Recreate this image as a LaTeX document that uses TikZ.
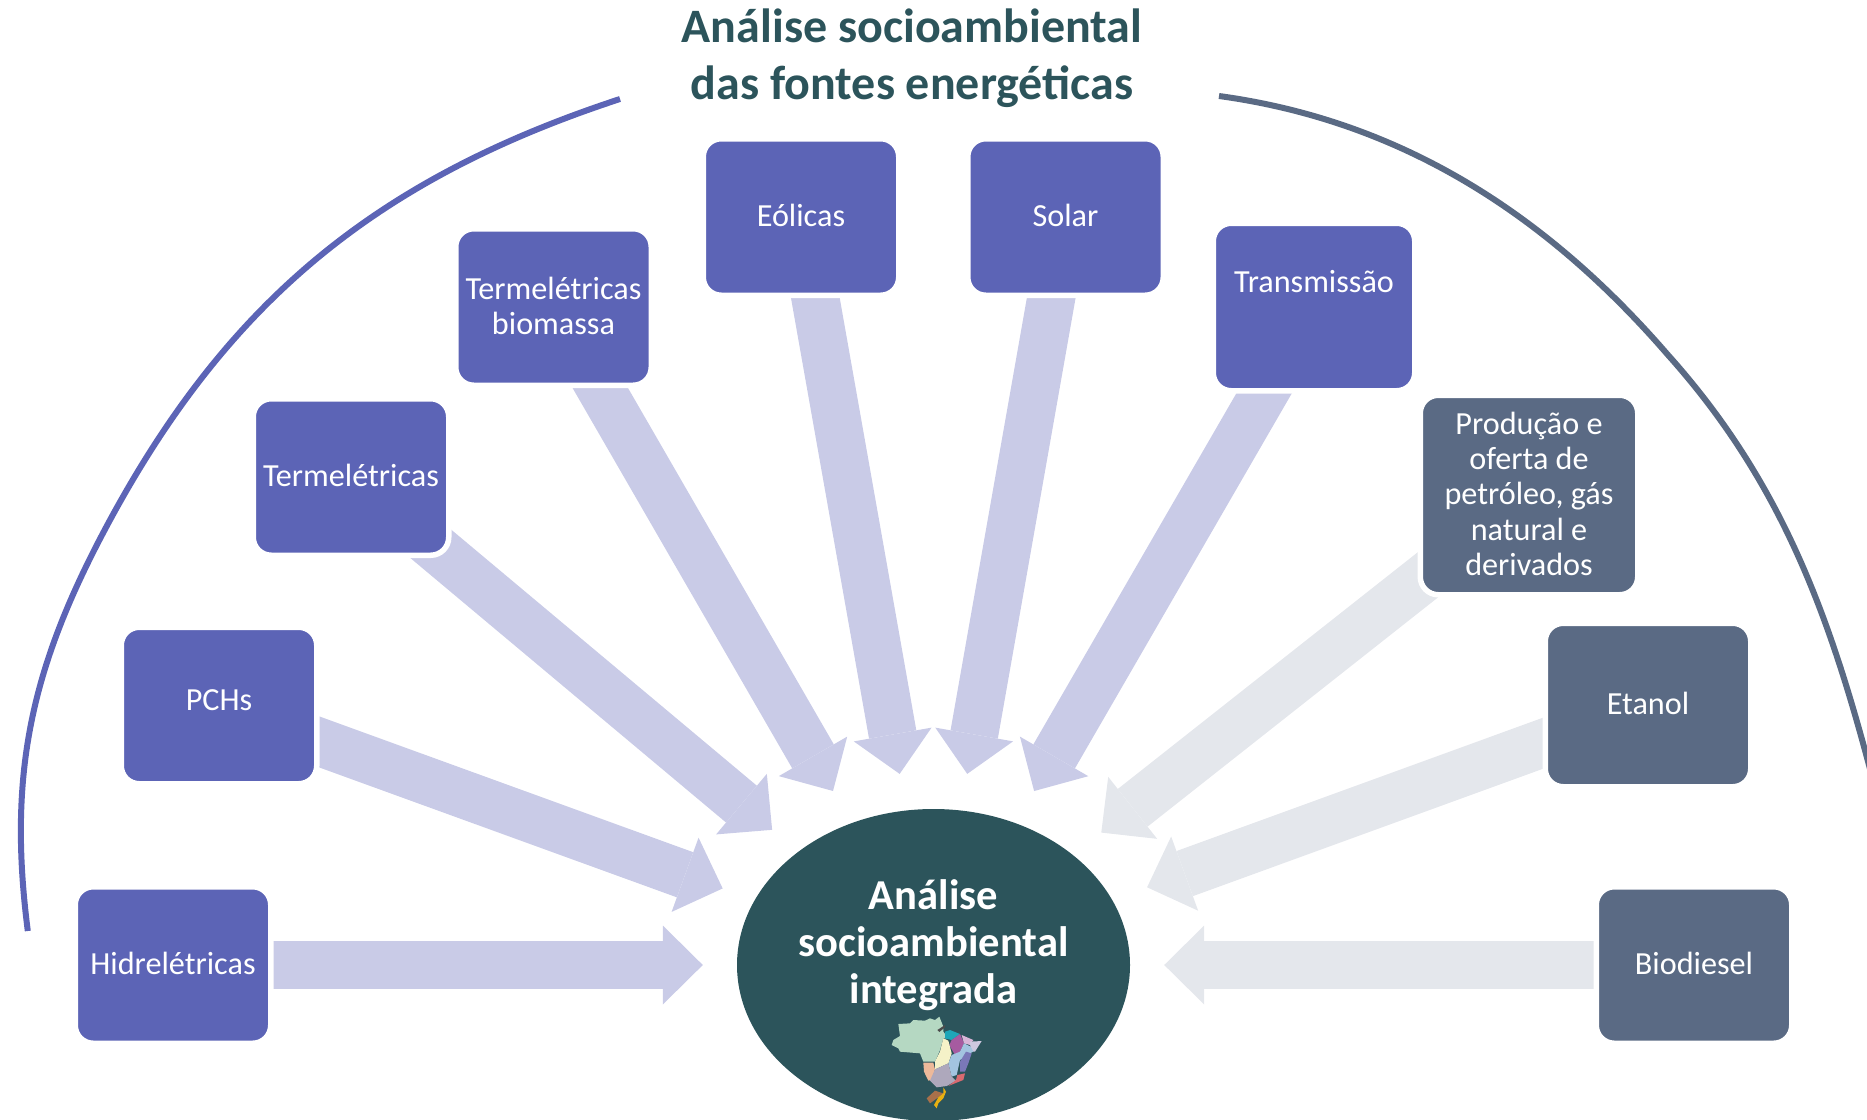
\documentclass[tikz,border=0pt]{standalone}
\usepackage{fontspec}
\setmainfont{Carlito}
\usetikzlibrary{arrows.meta,backgrounds,shapes.geometric}
\definecolor{boxblue}{HTML}{5C64B6}
\definecolor{boxslate}{HTML}{5A6A84}
\definecolor{flowblue}{HTML}{C9CBE7}
\definecolor{flowslate}{HTML}{E4E7EC}
\definecolor{focusteal}{HTML}{2C545B}
\tikzset{
  source/.style={rectangle, rounded corners=18pt, draw=white, line width=5.5pt, inner sep=0pt, align=center, text=white, text depth=2.4pt, font=\fontsize{32.2}{35.3}\selectfont},
  bluesource/.style={source, fill=boxblue},
  slatesource/.style={source, fill=boxslate},
  flow/.style={line width=48pt, shorten >=34pt, -{Triangle[length=40pt,width=79pt,line width=0pt]}},
  region/.style={draw=none}
}
\begin{document}
\begin{tikzpicture}[x=1pt,y=-1pt]
  \useasboundingbox (0,0) rectangle (1867,1119);
  \node (title) [align=center, text=focusteal, font=\fontsize{48}{57}\selectfont\bfseries] at (912,58) {Análise socioambiental\\das fontes energéticas};
  \node (focus) [ellipse, fill=focusteal, inner sep=0pt, minimum width=393pt, minimum height=312pt] at (933.5,965) {};
  \node (focuslabel) [align=center, text=white, font=\fontsize{42.6}{47}\selectfont\bfseries] at (933.5,945) {Análise\\socioambiental\\integrada};

  \node (hidro) [bluesource, minimum width=195.5pt, minimum height=156.5pt] at (173,965) {Hidrelétricas};
  \node (pch) [bluesource, minimum width=195.5pt, minimum height=156.5pt, text depth=10pt] at (219,705.5) {PCHs};
  \node (termo) [bluesource, minimum width=195.5pt, minimum height=156.5pt] at (351,477) {Termelétricas};
  \node (biomassa) [bluesource, minimum width=195.5pt, minimum height=156.5pt] at (553.5,307) {Termelétricas\\biomassa};
  \node (eolicas) [bluesource, minimum width=195.5pt, minimum height=156.5pt] at (801,217) {Eólicas};
  \node (solar) [bluesource, minimum width=195.5pt, minimum height=156.5pt] at (1065.5,217) {Solar};
  \node (transmissao) [bluesource, minimum width=201.5pt, minimum height=167.5pt] at (1314,307) {Transmissão\\[14pt]\mbox{}};
  \node (petroleo) [slatesource, minimum width=217.5pt, minimum height=199.5pt] at (1529,495) {Produção e\\oferta de\\petróleo, gás\\natural e\\derivados};
  \node (etanol) [slatesource, minimum width=205.5pt, minimum height=163.5pt] at (1648,705) {Etanol};
  \node (biodiesel) [slatesource, minimum width=195.5pt, minimum height=156.5pt] at (1694,965) {Biodiesel};

  \begin{scope}[on background layer]
    \path[flow, color=flowblue]
    (hidro.center) edge (focus)
    (pch.center) edge (focus)
    (termo.center) edge (focus)
    (biomassa.center) edge [shorten >=37pt] (focus)
    (eolicas.center) edge [shorten >=37pt] (focus)
    (solar.center) edge [shorten >=37pt] (focus)
    (transmissao.center) edge [shorten >=37pt] (focus)
    ;
    \path[flow, color=flowslate]
    (petroleo.center) edge [shorten >=36pt] (focus)
    (etanol.center) edge [shorten >=37pt] (focus)
    (biodiesel.center) edge (focus)
    ;
  \end{scope}

  % arcs round the sources
  \draw[boxblue, line width=6pt] (620,99) .. controls (373,180) and (223,305) .. (102,535) .. controls (30,672) and (8,777) .. (27.8,931);
  \draw[boxslate, line width=6pt] (1219,96) .. controls (1402,121) and (1547,215) .. (1668,355) .. controls (1780,480) and (1828,611) .. (1870,769);

  % map, in 3x zoom units
  \begin{scope}[shift={(880,1010)}, x=0.3333pt, y=-0.3333pt]
    \fill[region, fill={rgb,255:red,181;green,216;blue,194}] (55,42) -- (90,40) -- (100,30) -- (135,32) -- (150,25) -- (165,30) -- (178,20) -- (190,50) -- (190,65) -- (205,85) -- (190,85) -- (180,120) -- (165,155) -- (130,155) -- (120,130) -- (60,125) -- (55,115) -- (35,105) -- (40,90) -- (60,78) -- cycle;
    \fill[region, fill=black!70] (172,60) -- (195,45) -- (195,52) -- (178,66) -- cycle;
    \fill[region, fill={rgb,255:red,30;green,166;blue,184}] (195,65) -- (210,60) -- (240,72) -- (215,90) -- (195,85) -- cycle;
    \fill[region, fill={rgb,255:red,166;green,91;blue,160}] (215,90) -- (240,72) -- (252,100) -- (240,125) -- (225,135) -- (208,105) -- cycle;
    \fill[region, fill={rgb,255:red,217;green,181;blue,216}] (245,75) -- (280,90) -- (270,105) -- (252,100) -- cycle;
    \fill[region, fill={rgb,255:red,207;green,200;blue,224}] (270,95) -- (305,93) -- (285,125) -- (272,125) -- cycle;
    \fill[region, fill={rgb,255:red,163;green,196;blue,224}] (252,100) -- (272,110) -- (280,125) -- (270,130) -- (240,150) -- (230,195) -- (215,200) -- (205,160) -- (215,135) -- (240,125) -- cycle;
    \fill[region, fill={rgb,255:red,122;green,120;blue,184}] (258,125) -- (275,130) -- (265,160) -- (255,185) -- (240,185) -- (240,155) -- cycle;
    \fill[region, fill={rgb,255:red,245;green,242;blue,200}] (190,85) -- (205,92) -- (215,130) -- (205,160) -- (165,178) -- (165,155) -- (180,125) -- cycle;
    \fill[region, fill={rgb,255:red,237;green,185;blue,154}] (130,158) -- (160,158) -- (165,178) -- (155,210) -- (145,212) -- (132,185) -- cycle;
    \fill[region, fill={rgb,255:red,174;green,168;blue,188}] (165,178) -- (205,160) -- (215,200) -- (228,212) -- (200,228) -- (170,232) -- (150,212) -- cycle;
    \fill[region, fill={rgb,255:red,217;green,106;blue,112}] (232,195) -- (255,190) -- (250,210) -- (220,222) -- (205,228) -- (228,210) -- cycle;
    \fill[region, fill={rgb,255:red,168;green,112;blue,74}] (165,242) -- (190,250) -- (175,262) -- (150,280) -- (140,265) -- cycle;
    \fill[region, fill={rgb,255:red,232;green,176;blue,18}] (190,232) -- (198,245) -- (190,265) -- (175,280) -- (170,295) -- (162,285) -- (175,262) -- (190,250) -- cycle;
  \end{scope}
\end{tikzpicture}
\end{document}
